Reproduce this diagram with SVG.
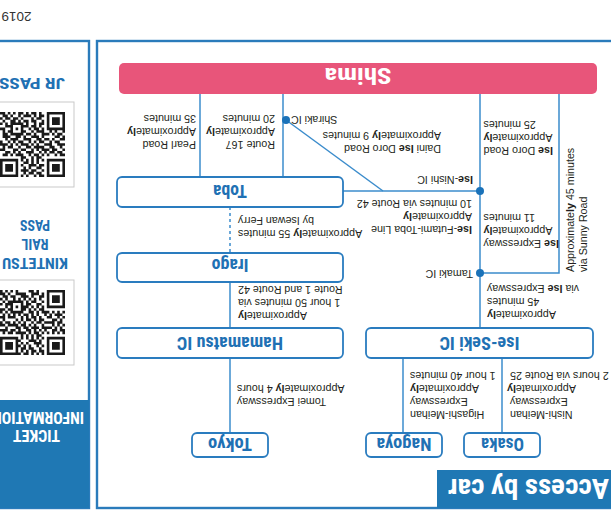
<svg xmlns="http://www.w3.org/2000/svg" width="611" height="511" viewBox="0 0 611 511">
<style>
.frame{fill:none;stroke:#2a7bbb;stroke-width:2.4}
.node rect{fill:#fff;stroke:#2a7cbf;stroke-width:1.8}
.nt{font-family:"Liberation Sans Narrow","Roboto Condensed",Roboto,"Liberation Sans",sans-serif;font-weight:700;fill:#1f71b4;text-anchor:middle}
.wt{fill:#fff}
.lbl{font-family:"Liberation Sans",Arial,sans-serif;font-size:10.7px;fill:#231f20}
.e{text-anchor:end}
.b{font-weight:700}
.conn line,.conn polyline{stroke:#3b8ccc;stroke-width:1.5;fill:none}
.dash{stroke-dasharray:3 3}
.dot{fill:#1a72b9}
.qrbox{fill:#fff;stroke:#c9c9c9;stroke-width:1}
.qr{fill:#1a1a1a}
</style>
<defs>
<path id="qr" class="qr" d="M0 0h7v1h-7zM8 0h2v1h-2zM11 0h1v1h-1zM14 0h1v1h-1zM16 0h1v1h-1zM18 0h7v1h-7zM0 1h1v1h-1zM6 1h1v1h-1zM9 1h2v1h-2zM12 1h2v1h-2zM15 1h1v1h-1zM18 1h1v1h-1zM24 1h1v1h-1zM0 2h1v1h-1zM2 2h3v1h-3zM6 2h1v1h-1zM8 2h1v1h-1zM11 2h2v1h-2zM14 2h3v1h-3zM18 2h1v1h-1zM20 2h3v1h-3zM24 2h1v1h-1zM0 3h1v1h-1zM2 3h3v1h-3zM6 3h1v1h-1zM9 3h2v1h-2zM13 3h1v1h-1zM15 3h1v1h-1zM18 3h1v1h-1zM20 3h3v1h-3zM24 3h1v1h-1zM0 4h1v1h-1zM2 4h3v1h-3zM6 4h1v1h-1zM8 4h2v1h-2zM11 4h3v1h-3zM16 4h1v1h-1zM18 4h1v1h-1zM20 4h3v1h-3zM24 4h1v1h-1zM0 5h1v1h-1zM6 5h1v1h-1zM10 5h1v1h-1zM12 5h1v1h-1zM14 5h2v1h-2zM18 5h1v1h-1zM24 5h1v1h-1zM0 6h7v1h-7zM8 6h1v1h-1zM10 6h1v1h-1zM12 6h1v1h-1zM14 6h1v1h-1zM16 6h1v1h-1zM18 6h7v1h-7zM9 7h2v1h-2zM12 7h1v1h-1zM15 7h2v1h-2zM0 8h2v1h-2zM3 8h1v1h-1zM6 8h1v1h-1zM8 8h1v1h-1zM10 8h2v1h-2zM13 8h1v1h-1zM16 8h3v1h-3zM20 8h1v1h-1zM22 8h2v1h-2zM1 9h2v1h-2zM4 9h2v1h-2zM7 9h1v1h-1zM9 9h1v1h-1zM12 9h3v1h-3zM17 9h1v1h-1zM19 9h1v1h-1zM21 9h2v1h-2zM0 10h1v1h-1zM3 10h2v1h-2zM6 10h3v1h-3zM10 10h1v1h-1zM12 10h1v1h-1zM15 10h2v1h-2zM18 10h2v1h-2zM23 10h2v1h-2zM1 11h1v1h-1zM4 11h2v1h-2zM8 11h4v1h-4zM13 11h2v1h-2zM17 11h1v1h-1zM20 11h2v1h-2zM23 11h1v1h-1zM0 12h3v1h-3zM5 12h3v1h-3zM10 12h1v1h-1zM12 12h1v1h-1zM14 12h3v1h-3zM18 12h1v1h-1zM20 12h1v1h-1zM22 12h3v1h-3zM2 13h2v1h-2zM5 13h1v1h-1zM8 13h2v1h-2zM11 13h1v1h-1zM13 13h1v1h-1zM16 13h2v1h-2zM19 13h1v1h-1zM21 13h1v1h-1zM24 13h1v1h-1zM0 14h2v1h-2zM4 14h1v1h-1zM6 14h2v1h-2zM9 14h2v1h-2zM13 14h3v1h-3zM18 14h3v1h-3zM22 14h1v1h-1zM0 15h1v1h-1zM2 15h2v1h-2zM8 15h1v1h-1zM10 15h3v1h-3zM15 15h1v1h-1zM17 15h2v1h-2zM21 15h3v1h-3zM1 16h2v1h-2zM4 16h1v1h-1zM6 16h3v1h-3zM11 16h1v1h-1zM13 16h2v1h-2zM16 16h5v1h-5zM22 16h2v1h-2zM0 17h1v1h-1zM3 17h1v1h-1zM5 17h1v1h-1zM8 17h3v1h-3zM12 17h1v1h-1zM15 17h2v1h-2zM20 17h2v1h-2zM23 17h1v1h-1zM0 18h7v1h-7zM8 18h1v1h-1zM10 18h2v1h-2zM13 18h1v1h-1zM16 18h1v1h-1zM18 18h1v1h-1zM20 18h1v1h-1zM23 18h2v1h-2zM0 19h1v1h-1zM6 19h1v1h-1zM9 19h1v1h-1zM11 19h2v1h-2zM14 19h3v1h-3zM20 19h3v1h-3zM0 20h1v1h-1zM2 20h3v1h-3zM6 20h1v1h-1zM8 20h2v1h-2zM11 20h1v1h-1zM14 20h1v1h-1zM16 20h5v1h-5zM22 20h1v1h-1zM24 20h1v1h-1zM0 21h1v1h-1zM2 21h3v1h-3zM6 21h1v1h-1zM8 21h1v1h-1zM11 21h2v1h-2zM14 21h2v1h-2zM17 21h1v1h-1zM19 21h2v1h-2zM23 21h1v1h-1zM0 22h1v1h-1zM2 22h3v1h-3zM6 22h1v1h-1zM9 22h2v1h-2zM12 22h1v1h-1zM16 22h1v1h-1zM18 22h2v1h-2zM21 22h2v1h-2zM24 22h1v1h-1zM0 23h1v1h-1zM6 23h1v1h-1zM8 23h2v1h-2zM11 23h1v1h-1zM13 23h3v1h-3zM17 23h1v1h-1zM20 23h1v1h-1zM22 23h2v1h-2zM0 24h7v1h-7zM9 24h1v1h-1zM11 24h2v1h-2zM14 24h1v1h-1zM16 24h2v1h-2zM19 24h1v1h-1zM21 24h1v1h-1zM23 24h2v1h-2z"/>
</defs>
<rect x="0" y="0" width="611" height="511" fill="#fff"/>
<g transform="rotate(180 305.5 255.5)">
  <text class="lbl" x="579.5" y="499" style="font-size:13.5px;fill:#333">2019</text>

  <!-- ticket panel -->
  <g id="ticket-panel">
    <rect class="frame" x="522" y="3" width="100" height="467"/>
    <rect x="522" y="3" width="100" height="108" fill="#1f78b4"/>
    <text class="nt wt" x="574.5" y="81" font-size="16" textLength="47" lengthAdjust="spacingAndGlyphs">TICKET</text>
    <text class="nt wt" x="573" y="99" font-size="16" textLength="92" lengthAdjust="spacingAndGlyphs">INFORMATION</text>
    <rect class="qrbox" x="537" y="146" width="85" height="85"/>
    <use href="#qr" transform="matrix(0 2.6 2.6 0 546 156)"/>
    <text class="nt" x="576" y="253" font-size="14" textLength="66" lengthAdjust="spacingAndGlyphs">KINTETSU</text>
    <text class="nt" x="576" y="272" font-size="14" textLength="27" lengthAdjust="spacingAndGlyphs">RAIL</text>
    <text class="nt" x="576" y="291" font-size="14" textLength="30" lengthAdjust="spacingAndGlyphs">PASS</text>
    <rect class="qrbox" x="537" y="324" width="85" height="85"/>
    <use href="#qr" transform="matrix(2.6 0 0 2.6 546 334)"/>
    <text class="nt" x="546" y="433" font-size="14" textLength="66" lengthAdjust="spacingAndGlyphs" style="text-anchor:start">JR PASS</text>
  </g>

  <!-- main panel -->
  <g id="main-panel">
    <rect class="frame" x="-10" y="3" width="524" height="467"/>
    <rect x="-5" y="3" width="179" height="38" fill="#1f78b4"/>
    <text class="nt wt" x="2" y="32" font-size="27" textLength="161" lengthAdjust="spacingAndGlyphs" style="text-anchor:start">Access by car</text>
  </g>

  <!-- connectors -->
  <g id="connectors" class="conn">
    <line x1="411" y1="417" x2="411" y2="334"/>
    <line x1="328" y1="417" x2="328" y2="334"/>
    <line x1="325" y1="391" x2="228" y2="320"/>
    <line x1="268" y1="320" x2="131" y2="320"/>
    <line x1="131" y1="417" x2="131" y2="183"/>
    <polyline points="52,417 52,238 131,238"/>
    <line class="dash" x1="381" y1="304" x2="381" y2="258"/>
    <line x1="381" y1="229" x2="381" y2="183"/>
    <line x1="381" y1="153" x2="381" y2="78"/>
    <line x1="208" y1="153" x2="208" y2="78"/>
    <line x1="109" y1="153" x2="109" y2="78"/>
    <circle class="dot" cx="325" cy="391" r="4"/>
    <circle class="dot" cx="131" cy="320" r="4"/>
    <circle class="dot" cx="131" cy="238" r="4"/>
  </g>

  <!-- nodes -->
  <g id="shima" class="node">
    <rect x="14" y="417" width="478" height="31" rx="5" style="fill:#e8557a;stroke:none"/>
    <text class="nt wt" x="253" y="443" font-size="22" textLength="67" lengthAdjust="spacingAndGlyphs">Shima</text>
  </g>
  <g id="toba" class="node">
    <rect x="268" y="304" width="226" height="30" rx="5"/>
    <text class="nt" x="381" y="326" font-size="19" textLength="34" lengthAdjust="spacingAndGlyphs">Toba</text>
  </g>
  <g id="irago" class="node">
    <rect x="268" y="229" width="226" height="29" rx="5"/>
    <text class="nt" x="381" y="252" font-size="19" textLength="37" lengthAdjust="spacingAndGlyphs">Irago</text>
  </g>
  <g id="hamamatsu" class="node">
    <rect x="268" y="153" width="226" height="30" rx="5"/>
    <text class="nt" x="381" y="174" font-size="18.5" textLength="106" lengthAdjust="spacingAndGlyphs">Hamamatsu IC</text>
  </g>
  <g id="iseseki" class="node">
    <rect x="18" y="153" width="227" height="30" rx="5"/>
    <text class="nt" x="131.5" y="174" font-size="18.5" textLength="80" lengthAdjust="spacingAndGlyphs">Ise-Seki IC</text>
  </g>
  <g id="tokyo" class="node">
    <rect x="343" y="54" width="76" height="24" rx="5"/>
    <text class="nt" x="381" y="73" font-size="18" textLength="44" lengthAdjust="spacingAndGlyphs">Tokyo</text>
  </g>
  <g id="nagoya" class="node">
    <rect x="169" y="54" width="76" height="24" rx="5"/>
    <text class="nt" x="207" y="73" font-size="18" textLength="55" lengthAdjust="spacingAndGlyphs">Nagoya</text>
  </g>
  <g id="osaka" class="node">
    <rect x="71" y="54" width="76" height="24" rx="5"/>
    <text class="nt" x="108.5" y="73" font-size="18" textLength="43" lengthAdjust="spacingAndGlyphs">Osaka</text>
  </g>

  <!-- labels -->
  <g id="labels" class="lbl">
    <text x="415" y="370">Pearl Road</text>
    <text x="415" y="383">Approximate<tspan class="b">ly</tspan></text>
    <text x="415" y="396">35 minutes</text>

    <text x="336" y="370">Route 167</text>
    <text x="336" y="383">Approximate<tspan class="b">ly</tspan></text>
    <text x="336" y="396">20 minutes</text>

    <text class="e" x="320" y="395">Shiraki IC</text>

    <text x="170" y="366">Daini <tspan class="b">Ise</tspan> Doro Road</text>
    <text x="170" y="379">Approximate<tspan class="b">ly</tspan> 9 minutes</text>

    <text class="e" x="127.5" y="364"><tspan class="b">Ise</tspan> Doro Road</text>
    <text class="e" x="127.5" y="377">Approximate<tspan class="b">ly</tspan></text>
    <text class="e" x="127.5" y="390">25 minutes</text>

    <text x="138" y="335"><tspan class="b">Ise</tspan>-Nishi IC</text>

    <text x="139" y="285"><tspan class="b">Ise</tspan>-Futami-Toba Line</text>
    <text x="139" y="298">Approximate<tspan class="b">ly</tspan></text>
    <text x="139" y="311">10 minutes via Route 42</text>

    <text class="e" x="127.5" y="271"><tspan class="b">Ise</tspan> Expressway</text>
    <text class="e" x="127.5" y="284">Approximate<tspan class="b">ly</tspan></text>
    <text class="e" x="127.5" y="297">11 minutes</text>

    <text transform="translate(37 239) rotate(90)">Approximate<tspan class="b">ly</tspan> 45 minutes</text>
    <text transform="translate(24 239) rotate(90)">via Sunny Road</text>

    <text x="138" y="241">Tamaki IC</text>

    <text class="e" x="124" y="200">Approximate<tspan class="b">ly</tspan></text>
    <text class="e" x="124" y="213">45 minutes</text>
    <text class="e" x="124" y="226">via <tspan class="b">Ise</tspan> Expressway</text>

    <text class="e" x="373" y="281">Approximate<tspan class="b">ly</tspan> 55 minutes</text>
    <text class="e" x="373" y="294">by Isewan Ferry</text>

    <text class="e" x="373" y="199">Approximate<tspan class="b">ly</tspan></text>
    <text class="e" x="373" y="212">1 hour 50 minutes via</text>
    <text class="e" x="373" y="225">Route 1 and Route 42</text>

    <text class="e" x="374" y="113">Tomei Expressway</text>
    <text class="e" x="374" y="126">Approximate<tspan class="b">ly</tspan> 4 hours</text>

    <text class="e" x="201" y="100">Higashi-Meihan</text>
    <text class="e" x="201" y="113">Expressway</text>
    <text class="e" x="201" y="126">Approximate<tspan class="b">ly</tspan></text>
    <text class="e" x="201" y="139">1 hour 40 minutes</text>

    <text class="e" x="101" y="100">Nishi-Meihan</text>
    <text class="e" x="101" y="113">Expressway</text>
    <text class="e" x="104" y="126">Approximate<tspan class="b">ly</tspan></text>
    <text class="e" x="101" y="139">2 hours via Route 25</text>
  </g>
</g>
</svg>
